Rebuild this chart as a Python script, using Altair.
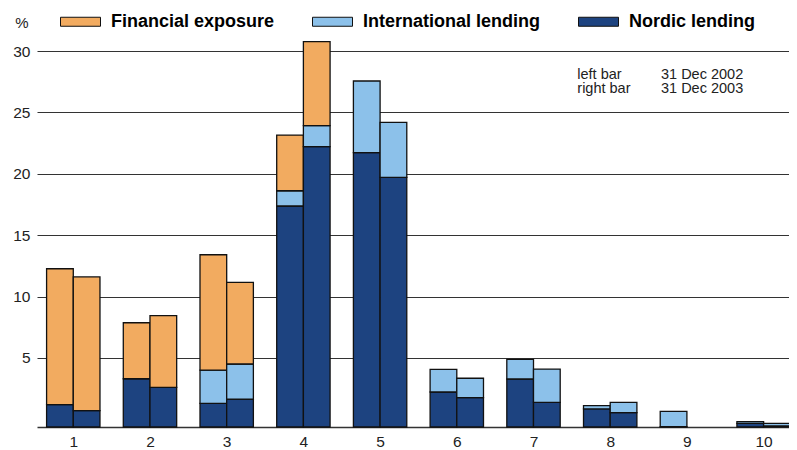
import altair as alt
import pandas as pd

categories = [1, 2, 3, 4, 5, 6, 7, 8, 9, 10]
series = ["Financial exposure", "International lending", "Nordic lending"]
colors = ["#F2AB60", "#8CC1EA", "#1D4380"]

# segment heights (%), left bar = 31 Dec 2002, right bar = 31 Dec 2003
nordic_2002 = [1.82, 3.93, 1.93, 18.00, 22.34, 2.85, 3.91, 1.47, 0.03, 0.30]
intl_2002 = [0.00, 0.00, 2.71, 1.24, 5.84, 1.85, 1.60, 0.27, 1.25, 0.13]
fin_2002 = [11.07, 4.56, 9.39, 4.54, 0.00, 0.00, 0.00, 0.00, 0.00, 0.00]
nordic_2003 = [1.33, 3.23, 2.26, 22.83, 20.33, 2.39, 2.01, 1.17, 0.00, 0.08]
intl_2003 = [0.00, 0.00, 2.87, 1.71, 4.48, 1.58, 2.71, 0.84, 0.00, 0.22]
fin_2003 = [10.89, 5.84, 6.65, 6.84, 0.00, 0.00, 0.00, 0.00, 0.00, 0.00]

y_ticks = [5, 10, 15, 20, 25, 30]
note_labels = ["left bar", "right bar"]
note_dates = ["31 Dec 2002", "31 Dec 2003"]

BASE = -0.62
BAR_W = 0.348
FONT = "Liberation Sans"

rows = []
for i, c in enumerate(categories):
    for (x0, x1), segs in [
        ((c - BAR_W, c), [nordic_2002[i], intl_2002[i], fin_2002[i]]),
        ((c, c + BAR_W), [nordic_2003[i], intl_2003[i], fin_2003[i]]),
    ]:
        y0 = BASE
        for name, h in zip(["Nordic lending", "International lending", "Financial exposure"], segs):
            if h > 0:
                rows.append({"x": x0, "x2": x1, "y": y0, "y2": y0 + h, "series": name})
            y0 += h
bars_df = pd.DataFrame(rows)

notes_df = pd.DataFrame({
    "x": [7.571, 7.571, 8.662, 8.662],
    "y": [27.76, 26.58, 27.76, 26.58],
    "text": note_labels + note_dates,
})

xscale = alt.Scale(domain=[0.527, 10.331], nice=False, zero=False)
yscale = alt.Scale(domain=[BASE, 30.90], nice=False, zero=False)

bars = alt.Chart(bars_df).mark_bar(stroke="#111111", strokeWidth=1.3).encode(
    x=alt.X("x:Q", scale=xscale, axis=alt.Axis(
        values=categories, format="d", grid=False, ticks=False, domain=True,
        domainColor="#333333", domainWidth=1.5, labelFontSize=15.5, labelPadding=7,
        labelColor="#222222", labelFont=FONT, title=None)),
    x2="x2:Q",
    y=alt.Y("y:Q", scale=yscale, axis=alt.Axis(
        values=y_ticks, grid=True, gridColor="#333333", gridWidth=1.2,
        domain=False, ticks=False, labelPadding=7, labelFontSize=15.5,
        labelColor="#222222", labelFont=FONT,
        title="%", titleAngle=0, titleAlign="right", titleBaseline="alphabetic",
        titleX=-9, titleY=-13, titleFontSize=15, titleFontWeight="normal",
        titleColor="#222222", titleFont=FONT)),
    y2="y2:Q",
    color=alt.Color("series:N", scale=alt.Scale(domain=series, range=colors),
                    legend=alt.Legend(
                        orient="none", direction="horizontal", legendX=23, legendY=-39,
                        title=None, symbolType="M-1,-0.225H1V0.225H-1Z", symbolSize=1600,
                        symbolStrokeColor="#111111", symbolStrokeWidth=1, symbolOpacity=1,
                        labelFont=FONT, labelFontSize=18, labelFontWeight="bold",
                        labelColor="#000000", labelOffset=10, columnPadding=35,
                        labelLimit=300, padding=0)),
)

notes = alt.Chart(notes_df).mark_text(
    align="left", baseline="alphabetic", font=FONT, fontSize=14.5, color="#222222"
).encode(
    x=alt.X("x:Q", scale=xscale),
    y=alt.Y("y:Q", scale=yscale),
    text="text:N",
)

chart = alt.layer(bars, notes).properties(
    width=752, height=387,
    autosize=alt.AutoSizeParams(type="none"),
    padding={"left": 29, "top": 32, "right": 0, "bottom": 23},
).configure_view(stroke=None)

chart.save("out.html", embed_options={"renderer": "svg", "actions": False})
